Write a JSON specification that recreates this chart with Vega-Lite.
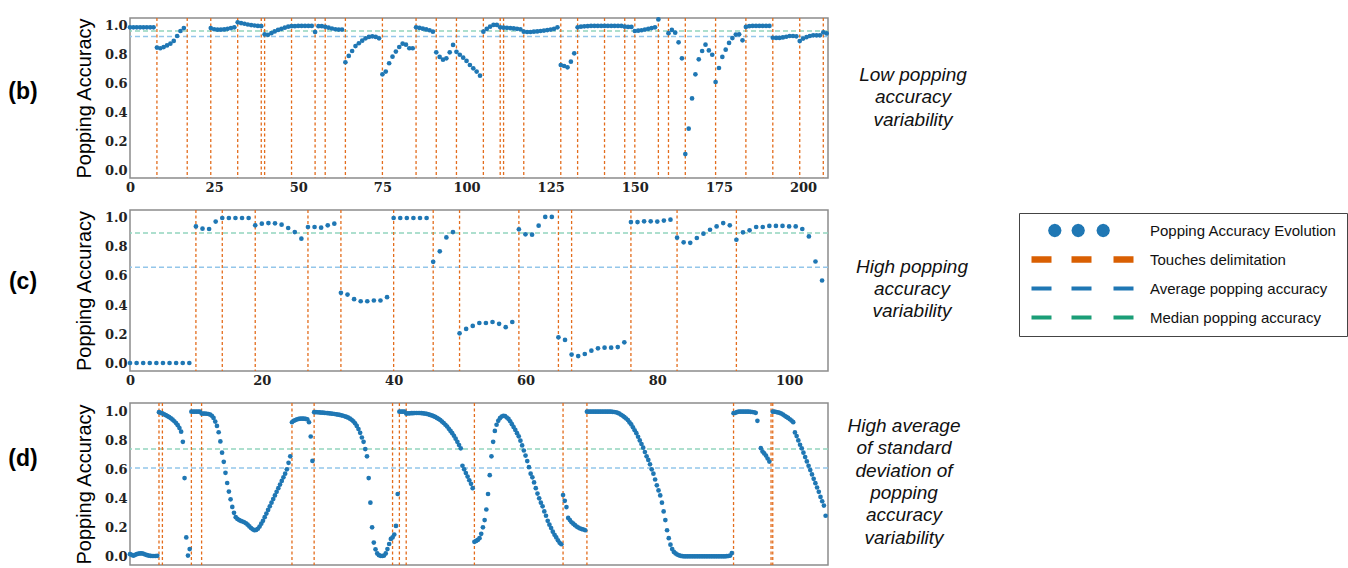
{
"$schema": "https://vega.github.io/schema/vega-lite/v6.json",
"background": "white",
"padding": {"left": 0, "top": 16, "right": 0, "bottom": 0},
"config": {
 "view": {"stroke": "#8c8c8c", "strokeWidth": 1.5},
 "axis": {"grid": false, "domain": false, "ticks": false, "labelFont": "DejaVu Serif", "labelFontWeight": "bold", "labelFontSize": 13, "labelColor": "#222", "labelPadding": 3, "labelFlush": false, "labelOverlap": false, "labelBound": false, "labelSeparation": 0, "titleFont": "Liberation Sans", "titleFontWeight": "normal", "titleFontSize": 20, "titleColor": "#000", "titlePadding": 10},
 "axisY": {"labelOverlap": false, "labelBound": false},
 "axisQuantitative": {"labelOverlap": false}
},
"datasets": {
 "pb": [{"i":0,"v":0.99},{"i":1,"v":0.99},{"i":2,"v":0.99},{"i":3,"v":0.99},{"i":4,"v":0.99},{"i":5,"v":0.99},{"i":6,"v":0.99},{"i":7,"v":0.99},
 {"i":8,"v":0.85},{"i":9,"v":0.845},{"i":10,"v":0.853},{"i":11,"v":0.865},{"i":12,"v":0.877},{"i":13,"v":0.896},{"i":14,"v":0.93},{"i":15,"v":0.965},{"i":16,"v":0.985},
 {"i":24,"v":0.985},{"i":25,"v":0.977},{"i":26,"v":0.974},{"i":27,"v":0.974},{"i":28,"v":0.976},{"i":29,"v":0.98},{"i":30,"v":0.985},{"i":31,"v":0.99},
 {"i":32,"v":1.025},{"i":33,"v":1.02},{"i":34,"v":1.015},{"i":35,"v":1.01},{"i":36,"v":1.006},{"i":37,"v":1.003},{"i":38,"v":1.0},{"i":39,"v":0.998},
 {"i":40,"v":0.942},{"i":41,"v":0.938},{"i":42,"v":0.95},{"i":43,"v":0.962},{"i":44,"v":0.972},{"i":45,"v":0.98},{"i":46,"v":0.988},{"i":47,"v":0.995},{"i":48,"v":0.998},{"i":49,"v":0.998},{"i":50,"v":1.0},{"i":51,"v":1.0},{"i":52,"v":1.0},{"i":53,"v":1.0},{"i":54,"v":1.0},
 {"i":55,"v":0.958},{"i":56,"v":0.998},{"i":57,"v":0.998},{"i":58,"v":0.994},{"i":59,"v":0.988},{"i":60,"v":0.982},{"i":61,"v":0.977},{"i":62,"v":0.975},{"i":63,"v":0.975},
 {"i":64,"v":0.748},{"i":65,"v":0.792},{"i":66,"v":0.826},{"i":67,"v":0.86},{"i":68,"v":0.88},{"i":69,"v":0.898},{"i":70,"v":0.914},{"i":71,"v":0.924},{"i":72,"v":0.928},{"i":73,"v":0.924},{"i":74,"v":0.914},
 {"i":75,"v":0.664},{"i":76,"v":0.683},{"i":77,"v":0.741},{"i":78,"v":0.787},{"i":79,"v":0.822},{"i":80,"v":0.854},{"i":81,"v":0.877},{"i":82,"v":0.87},{"i":83,"v":0.845},{"i":84,"v":0.845},
 {"i":85,"v":0.99},{"i":86,"v":0.986},{"i":87,"v":0.981},{"i":88,"v":0.976},{"i":89,"v":0.97},{"i":90,"v":0.96},
 {"i":91,"v":0.817},{"i":92,"v":0.785},{"i":93,"v":0.766},{"i":94,"v":0.775},{"i":95,"v":0.817},{"i":96,"v":0.868},
 {"i":97,"v":0.82},{"i":98,"v":0.8},{"i":99,"v":0.78},{"i":100,"v":0.757},{"i":101,"v":0.729},{"i":102,"v":0.706},{"i":103,"v":0.683},{"i":104,"v":0.655},
 {"i":105,"v":0.96},{"i":106,"v":0.979},{"i":107,"v":0.995},{"i":108,"v":1.007},{"i":109,"v":1.007},
 {"i":110,"v":0.99},{"i":111,"v":0.988},{"i":112,"v":0.987},{"i":113,"v":0.985},{"i":114,"v":0.983},{"i":115,"v":0.98},{"i":116,"v":0.977},
 {"i":117,"v":0.96},{"i":118,"v":0.958},{"i":119,"v":0.958},{"i":120,"v":0.96},{"i":121,"v":0.962},{"i":122,"v":0.965},{"i":123,"v":0.968},{"i":124,"v":0.971},{"i":125,"v":0.975},{"i":126,"v":0.98},{"i":127,"v":0.99},
 {"i":128,"v":0.729},{"i":129,"v":0.722},{"i":130,"v":0.713},{"i":131,"v":0.752},{"i":132,"v":0.81},
 {"i":133,"v":0.99},{"i":134,"v":0.995},{"i":135,"v":0.997},{"i":136,"v":0.998},{"i":137,"v":1.0},{"i":138,"v":1.0},{"i":139,"v":1.0},{"i":140,"v":1.0},{"i":141,"v":1.0},{"i":142,"v":1.0},{"i":143,"v":1.0},{"i":144,"v":1.0},{"i":145,"v":1.0},{"i":146,"v":1.0},
 {"i":147,"v":0.995},{"i":148,"v":0.993},{"i":149,"v":0.993},
 {"i":150,"v":0.965},{"i":151,"v":0.967},{"i":152,"v":0.97},{"i":153,"v":0.975},{"i":154,"v":0.98},{"i":155,"v":0.985},{"i":156,"v":0.99},
 {"i":157,"v":1.045},
 {"i":160,"v":0.95},{"i":161,"v":0.972},{"i":162,"v":0.953},{"i":163,"v":0.886},{"i":164,"v":0.775},
 {"i":165,"v":0.111},{"i":166,"v":0.287},{"i":167,"v":0.497},{"i":168,"v":0.664},{"i":169,"v":0.768},{"i":170,"v":0.826},{"i":171,"v":0.87},{"i":172,"v":0.83},{"i":173,"v":0.8},
 {"i":174,"v":0.611},{"i":175,"v":0.708},{"i":176,"v":0.785},{"i":177,"v":0.835},{"i":178,"v":0.882},{"i":179,"v":0.916},{"i":180,"v":0.94},{"i":181,"v":0.942},{"i":182,"v":0.9},
 {"i":183,"v":0.993},{"i":184,"v":0.998},{"i":185,"v":1.0},{"i":186,"v":1.0},{"i":187,"v":1.0},{"i":188,"v":1.0},{"i":189,"v":1.0},{"i":190,"v":1.0},
 {"i":191,"v":0.918},{"i":192,"v":0.917},{"i":193,"v":0.917},{"i":194,"v":0.92},{"i":195,"v":0.925},{"i":196,"v":0.93},{"i":197,"v":0.93},{"i":198,"v":0.928},
 {"i":199,"v":0.895},{"i":200,"v":0.912},{"i":201,"v":0.922},{"i":202,"v":0.93},{"i":203,"v":0.935},{"i":204,"v":0.935},{"i":205,"v":0.935},
 {"i":206,"v":0.955},{"i":207,"v":0.948}],
 "tb": [{"t":8},{"t":17},{"t":24},{"t":32},{"t":39},{"t":40},{"t":48},{"t":55},{"t":58},{"t":64},{"t":75},{"t":85},{"t":91},{"t":97},{"t":105},{"t":110},{"t":111},{"t":117},{"t":128},{"t":133},{"t":141},{"t":147},{"t":150},{"t":157},{"t":160},{"t":165},{"t":174},{"t":183},{"t":191},{"t":199},{"t":206}],
 "hb": [{"median":0.965,"average":0.926}],
 "pc": [{"i":0,"v":0},{"i":1,"v":0},{"i":2,"v":0},{"i":3,"v":0},{"i":4,"v":0},{"i":5,"v":0},{"i":6,"v":0},{"i":7,"v":0},{"i":8,"v":0},{"i":9,"v":0},
 {"i":10,"v":0.942},{"i":11,"v":0.926},{"i":12,"v":0.924},{"i":13,"v":0.975},
 {"i":14,"v":1.0},{"i":15,"v":1.0},{"i":16,"v":1.0},{"i":17,"v":1.0},{"i":18,"v":1.0},
 {"i":19,"v":0.949},{"i":20,"v":0.961},{"i":21,"v":0.965},{"i":22,"v":0.963},{"i":23,"v":0.954},{"i":24,"v":0.931},{"i":25,"v":0.903},{"i":26,"v":0.857},
 {"i":27,"v":0.938},{"i":28,"v":0.938},{"i":29,"v":0.933},{"i":30,"v":0.949},{"i":31,"v":0.961},
 {"i":32,"v":0.484},{"i":33,"v":0.472},{"i":34,"v":0.44},{"i":35,"v":0.426},{"i":36,"v":0.426},{"i":37,"v":0.431},{"i":38,"v":0.431},{"i":39,"v":0.454},
 {"i":40,"v":1.0},{"i":41,"v":1.0},{"i":42,"v":1.0},{"i":43,"v":1.0},{"i":44,"v":1.0},{"i":45,"v":1.0},
 {"i":46,"v":0.698},{"i":47,"v":0.77},{"i":48,"v":0.866},{"i":49,"v":0.903},
 {"i":50,"v":0.205},{"i":51,"v":0.235},{"i":52,"v":0.256},{"i":53,"v":0.276},{"i":54,"v":0.276},{"i":55,"v":0.283},{"i":56,"v":0.27},{"i":57,"v":0.247},{"i":58,"v":0.283},
 {"i":59,"v":0.922},{"i":60,"v":0.887},{"i":61,"v":0.885},{"i":62,"v":0.947},{"i":63,"v":1.007},{"i":64,"v":1.007},
 {"i":65,"v":0.177},{"i":66,"v":0.159},
 {"i":67,"v":0.058},{"i":68,"v":0.048},{"i":69,"v":0.062},{"i":70,"v":0.085},{"i":71,"v":0.101},{"i":72,"v":0.106},{"i":73,"v":0.106},{"i":74,"v":0.11},{"i":75,"v":0.143},
 {"i":76,"v":0.972},{"i":77,"v":0.972},{"i":78,"v":0.977},{"i":79,"v":0.977},{"i":80,"v":0.975},{"i":81,"v":0.982},{"i":82,"v":0.988},
 {"i":83,"v":0.864},{"i":84,"v":0.832},{"i":85,"v":0.829},{"i":86,"v":0.862},{"i":87,"v":0.892},{"i":88,"v":0.919},{"i":89,"v":0.942},{"i":90,"v":0.965},{"i":91,"v":0.949},
 {"i":92,"v":0.85},{"i":93,"v":0.901},{"i":94,"v":0.915},{"i":95,"v":0.938},{"i":96,"v":0.938},{"i":97,"v":0.945},{"i":98,"v":0.945},{"i":99,"v":0.945},{"i":100,"v":0.942},{"i":101,"v":0.942},{"i":102,"v":0.924},{"i":103,"v":0.873},{"i":104,"v":0.7},{"i":105,"v":0.569}],
 "tc": [{"t":10},{"t":14},{"t":19},{"t":27},{"t":32},{"t":40},{"t":46},{"t":50},{"t":59},{"t":65},{"t":67},{"t":76},{"t":83},{"t":92}],
 "hc": [{"median":0.896,"average":0.661}],
 "pd": [{"i":0,"v":0.015},{"i":1,"v":0.01},{"i":2,"v":0.004},{"i":3,"v":0.01},{"i":4,"v":0.015},{"i":5,"v":0.018},{"i":6,"v":0.02},{"i":7,"v":0.02},{"i":8,"v":0.017},{"i":9,"v":0.012},{"i":10,"v":0.008},{"i":11,"v":0.005},{"i":12,"v":0.003},{"i":13,"v":0.002},{"i":14,"v":0.002},{"i":15,"v":0.002},{"i":16,"v":0.003},
 {"i":17,"v":0.995},{"i":18,"v":0.99},{"i":19,"v":0.986},{"i":20,"v":0.98},{"i":21,"v":0.974},{"i":22,"v":0.967},{"i":23,"v":0.96},{"i":24,"v":0.952},{"i":25,"v":0.943},{"i":26,"v":0.932},{"i":27,"v":0.92},{"i":28,"v":0.905},{"i":29,"v":0.885},{"i":30,"v":0.86},{"i":31,"v":0.79},{"i":32,"v":0.54},{"i":33,"v":0.13},{"i":34,"v":0.005},{"i":35,"v":0.05},
 {"i":36,"v":0.998},{"i":37,"v":0.998},{"i":38,"v":0.998},{"i":39,"v":0.998},{"i":40,"v":0.998},{"i":41,"v":0.998},
 {"i":42,"v":0.985},{"i":43,"v":0.985},{"i":44,"v":0.985},{"i":45,"v":0.984},{"i":46,"v":0.982},{"i":47,"v":0.978},{"i":48,"v":0.97},{"i":49,"v":0.955},{"i":50,"v":0.93},{"i":51,"v":0.9},{"i":52,"v":0.856},{"i":53,"v":0.793},{"i":54,"v":0.715},{"i":55,"v":0.652},{"i":56,"v":0.576},{"i":57,"v":0.506},{"i":58,"v":0.447},{"i":59,"v":0.393},{"i":60,"v":0.341},{"i":61,"v":0.3},{"i":62,"v":0.27},{"i":63,"v":0.258},{"i":64,"v":0.25},{"i":65,"v":0.245},{"i":66,"v":0.24},{"i":67,"v":0.235},{"i":68,"v":0.228},{"i":69,"v":0.218},{"i":70,"v":0.206},{"i":71,"v":0.195},{"i":72,"v":0.186},{"i":73,"v":0.18},{"i":74,"v":0.182},
 {"i":75,"v":0.19},{"i":76,"v":0.205},{"i":77,"v":0.225},{"i":78,"v":0.245},{"i":79,"v":0.27},{"i":80,"v":0.295},{"i":81,"v":0.32},{"i":82,"v":0.345},{"i":83,"v":0.37},{"i":84,"v":0.395},{"i":85,"v":0.42},{"i":86,"v":0.445},{"i":87,"v":0.47},{"i":88,"v":0.495},{"i":89,"v":0.52},{"i":90,"v":0.545},{"i":91,"v":0.57},{"i":92,"v":0.6},{"i":93,"v":0.645},{"i":94,"v":0.69},
 {"i":95,"v":0.925},{"i":96,"v":0.935},{"i":97,"v":0.94},{"i":98,"v":0.945},{"i":99,"v":0.948},{"i":100,"v":0.95},{"i":101,"v":0.95},{"i":102,"v":0.95},{"i":103,"v":0.948},{"i":104,"v":0.945},{"i":105,"v":0.925},{"i":106,"v":0.827},{"i":107,"v":0.658},
 {"i":108,"v":0.995},{"i":109,"v":0.995},{"i":110,"v":0.994},{"i":111,"v":0.993},{"i":112,"v":0.992},{"i":113,"v":0.991},{"i":114,"v":0.99},{"i":115,"v":0.989},{"i":116,"v":0.988},{"i":117,"v":0.987},{"i":118,"v":0.985},{"i":119,"v":0.984},{"i":120,"v":0.982},{"i":121,"v":0.98},{"i":122,"v":0.978},{"i":123,"v":0.976},{"i":124,"v":0.973},{"i":125,"v":0.97},{"i":126,"v":0.966},{"i":127,"v":0.962},{"i":128,"v":0.957},{"i":129,"v":0.95},{"i":130,"v":0.942},{"i":131,"v":0.932},{"i":132,"v":0.918},{"i":133,"v":0.9},{"i":134,"v":0.878},{"i":135,"v":0.852},{"i":136,"v":0.82},{"i":137,"v":0.79},{"i":138,"v":0.74},{"i":139,"v":0.69},{"i":140,"v":0.54},{"i":141,"v":0.37},{"i":142,"v":0.2},{"i":143,"v":0.095},{"i":144,"v":0.048},{"i":145,"v":0.02},{"i":146,"v":0.008},{"i":147,"v":0.003},{"i":148,"v":0.002},{"i":149,"v":0.005},{"i":150,"v":0.02},{"i":151,"v":0.05},{"i":152,"v":0.085},{"i":153,"v":0.12},
 {"i":154,"v":0.13},{"i":155,"v":0.15},{"i":156,"v":0.21},{"i":157,"v":0.43},
 {"i":158,"v":0.998},{"i":159,"v":0.998},{"i":160,"v":0.998},{"i":161,"v":0.998},
 {"i":162,"v":0.985},{"i":163,"v":0.986},{"i":164,"v":0.987},{"i":165,"v":0.988},{"i":166,"v":0.988},{"i":167,"v":0.989},{"i":168,"v":0.989},{"i":169,"v":0.989},{"i":170,"v":0.989},{"i":171,"v":0.988},{"i":172,"v":0.987},{"i":173,"v":0.985},{"i":174,"v":0.983},{"i":175,"v":0.98},{"i":176,"v":0.976},{"i":177,"v":0.972},{"i":178,"v":0.967},{"i":179,"v":0.962},{"i":180,"v":0.955},{"i":181,"v":0.948},{"i":182,"v":0.94},{"i":183,"v":0.93},{"i":184,"v":0.92},{"i":185,"v":0.908},{"i":186,"v":0.896},{"i":187,"v":0.88},{"i":188,"v":0.865},{"i":189,"v":0.85},{"i":190,"v":0.832},{"i":191,"v":0.812},{"i":192,"v":0.79},{"i":193,"v":0.768},{"i":194,"v":0.745},
 {"i":195,"v":0.625},{"i":196,"v":0.6},{"i":197,"v":0.575},{"i":198,"v":0.55},{"i":199,"v":0.525},{"i":200,"v":0.5},{"i":201,"v":0.47},
 {"i":202,"v":0.1},{"i":203,"v":0.106},{"i":204,"v":0.113},{"i":205,"v":0.125},{"i":206,"v":0.155},{"i":207,"v":0.2},{"i":208,"v":0.25},{"i":209,"v":0.323},{"i":210,"v":0.43},{"i":211,"v":0.56},{"i":212,"v":0.69},{"i":213,"v":0.79},{"i":214,"v":0.865},{"i":215,"v":0.908},{"i":216,"v":0.935},{"i":217,"v":0.953},{"i":218,"v":0.965},{"i":219,"v":0.97},{"i":220,"v":0.968},{"i":221,"v":0.958},{"i":222,"v":0.948},{"i":223,"v":0.932},{"i":224,"v":0.912},{"i":225,"v":0.892},{"i":226,"v":0.872},{"i":227,"v":0.85},{"i":228,"v":0.828},{"i":229,"v":0.798},{"i":230,"v":0.765},{"i":231,"v":0.73},{"i":232,"v":0.695},{"i":233,"v":0.657},{"i":234,"v":0.615},{"i":235,"v":0.57},{"i":236,"v":0.545},{"i":237,"v":0.51},{"i":238,"v":0.47},{"i":239,"v":0.433},{"i":240,"v":0.4},{"i":241,"v":0.37},{"i":242,"v":0.345},{"i":243,"v":0.31},{"i":244,"v":0.28},{"i":245,"v":0.245},{"i":246,"v":0.218},{"i":247,"v":0.195},{"i":248,"v":0.17},{"i":249,"v":0.148},{"i":250,"v":0.13},{"i":251,"v":0.11},{"i":252,"v":0.093},{"i":253,"v":0.083},
 {"i":254,"v":0.423},{"i":255,"v":0.383},{"i":256,"v":0.34},{"i":257,"v":0.265},{"i":258,"v":0.25},{"i":259,"v":0.235},{"i":260,"v":0.225},{"i":261,"v":0.215},{"i":262,"v":0.205},{"i":263,"v":0.198},{"i":264,"v":0.192},{"i":265,"v":0.188},{"i":266,"v":0.185},{"i":267,"v":0.18},
 {"i":268,"v":0.998},{"i":269,"v":0.998},{"i":270,"v":0.998},{"i":271,"v":0.998},{"i":272,"v":0.998},{"i":273,"v":0.998},{"i":274,"v":0.998},{"i":275,"v":0.998},{"i":276,"v":0.998},{"i":277,"v":0.998},{"i":278,"v":0.998},{"i":279,"v":0.998},{"i":280,"v":0.998},{"i":281,"v":0.998},{"i":282,"v":0.998},{"i":283,"v":0.997},{"i":284,"v":0.996},{"i":285,"v":0.994},
 {"i":286,"v":0.99},{"i":287,"v":0.985},{"i":288,"v":0.977},{"i":289,"v":0.97},{"i":290,"v":0.96},{"i":291,"v":0.951},{"i":292,"v":0.94},{"i":293,"v":0.924},{"i":294,"v":0.91},{"i":295,"v":0.89},{"i":296,"v":0.87},{"i":297,"v":0.85},{"i":298,"v":0.825},{"i":299,"v":0.8},{"i":300,"v":0.775},{"i":301,"v":0.75},{"i":302,"v":0.72},{"i":303,"v":0.69},{"i":304,"v":0.665},{"i":305,"v":0.635},{"i":306,"v":0.6},{"i":307,"v":0.57},{"i":308,"v":0.53},{"i":309,"v":0.49},{"i":310,"v":0.455},{"i":311,"v":0.42},{"i":312,"v":0.37},{"i":313,"v":0.31},{"i":314,"v":0.25},{"i":315,"v":0.18},{"i":316,"v":0.125},{"i":317,"v":0.08},{"i":318,"v":0.05},{"i":319,"v":0.03},{"i":320,"v":0.02},{"i":321,"v":0.012},{"i":322,"v":0.007},{"i":323,"v":0.003},
 {"i":324,"v":0.001},{"i":325,"v":0.0},{"i":326,"v":0.0},{"i":327,"v":0.0},{"i":328,"v":0.0},{"i":329,"v":0.0},{"i":330,"v":0.0},{"i":331,"v":0.0},{"i":332,"v":0.0},{"i":333,"v":0.0},{"i":334,"v":0.0},{"i":335,"v":0.0},{"i":336,"v":0.0},{"i":337,"v":0.0},{"i":338,"v":0.0},{"i":339,"v":0.0},{"i":340,"v":0.0},{"i":341,"v":0.0},{"i":342,"v":0.0},{"i":343,"v":0.0},{"i":344,"v":0.0},{"i":345,"v":0.0},{"i":346,"v":0.0},{"i":347,"v":0.0},{"i":348,"v":0.0},{"i":349,"v":0.0},{"i":350,"v":0.001},{"i":351,"v":0.002},{"i":352,"v":0.005},{"i":353,"v":0.023},
 {"i":354,"v":0.988},{"i":355,"v":0.99},{"i":356,"v":0.995},{"i":357,"v":0.998},{"i":358,"v":0.998},{"i":359,"v":0.998},{"i":360,"v":0.998},{"i":361,"v":0.998},{"i":362,"v":0.998},{"i":363,"v":0.998},{"i":364,"v":0.997},{"i":365,"v":0.996},{"i":366,"v":0.994},{"i":367,"v":0.99},{"i":368,"v":0.935},
 {"i":370,"v":0.746},{"i":371,"v":0.723},{"i":372,"v":0.71},{"i":373,"v":0.695},{"i":374,"v":0.675},{"i":375,"v":0.654},
 {"i":377,"v":0.998},{"i":378,"v":0.998},{"i":379,"v":0.996},{"i":380,"v":0.993},{"i":381,"v":0.99},{"i":382,"v":0.985},{"i":383,"v":0.978},{"i":384,"v":0.97},{"i":385,"v":0.962},{"i":386,"v":0.955},{"i":387,"v":0.946},{"i":388,"v":0.937},{"i":389,"v":0.926},
 {"i":390,"v":0.855},{"i":391,"v":0.83},{"i":392,"v":0.8},{"i":393,"v":0.77},{"i":394,"v":0.745},{"i":395,"v":0.715},{"i":396,"v":0.685},{"i":397,"v":0.655},{"i":398,"v":0.625},{"i":399,"v":0.595},{"i":400,"v":0.565},{"i":401,"v":0.535},{"i":402,"v":0.505},{"i":403,"v":0.475},{"i":404,"v":0.445},{"i":405,"v":0.41},{"i":406,"v":0.38},{"i":407,"v":0.35},{"i":408,"v":0.28}],
 "td": [{"t":17},{"t":19},{"t":36},{"t":42},{"t":95},{"t":108},{"t":154},{"t":158},{"t":162},{"t":202},{"t":254},{"t":268},{"t":354},{"t":376},{"t":377}],
 "hd": [{"median":0.741,"average":0.61}]
},
"columns": 3,
"bounds": "flush",
"spacing": {"row": 32, "column": 0},
"resolve": {"scale": {"x": "independent", "y": "independent", "color": "independent", "shape": "independent"}},
"concat": [
 {"width": 130, "height": 160, "view": {"stroke": null}, "data": {"values": [{"t": "(b)"}]},
  "mark": {"type": "text", "font": "Liberation Sans", "fontWeight": "bold", "fontSize": 23, "color": "#000", "baseline": "middle", "align": "center", "dx": -42, "dy": -6},
  "encoding": {"text": {"field": "t"}}},
 {"width": 698, "height": 160,
  "layer": [
   {"data": {"name": "hb"}, "mark": {"type": "rule", "color": "#93d5bf", "strokeDash": [5, 3], "strokeWidth": 1.5},
    "encoding": {"y": {"field": "median", "type": "quantitative", "title": "Popping Accuracy", "scale": {"domain": [-0.055, 1.055], "nice": false, "zero": false}, "axis": {"values": [0, 0.2, 0.4, 0.6, 0.8, 1.0], "format": ".1f", "labelOverlap": false, "labelBound": false}}}},
   {"data": {"name": "hb"}, "mark": {"type": "rule", "color": "#93c6ea", "strokeDash": [5, 3], "strokeWidth": 1.5},
    "encoding": {"y": {"field": "average", "type": "quantitative", "title": "Popping Accuracy", "scale": {"domain": [-0.055, 1.055], "nice": false, "zero": false}, "axis": {"values": [0, 0.2, 0.4, 0.6, 0.8, 1.0], "format": ".1f", "labelOverlap": false, "labelBound": false}}}},
   {"data": {"name": "tb"}, "mark": {"type": "rule", "color": "#e36c1c", "strokeDash": [3, 2.5], "strokeWidth": 1.3},
    "encoding": {"x": {"field": "t", "type": "quantitative", "title": null, "scale": {"domain": [0, 207.4], "nice": false, "zero": false}, "axis": {"values": [0, 25, 50, 75, 100, 125, 150, 175, 200], "labelOverlap": false}}}},
   {"data": {"name": "pb"}, "mark": {"type": "point", "filled": true, "size": 22, "color": "#1f77b4", "opacity": 1},
    "encoding": {"x": {"field": "i", "type": "quantitative", "title": null, "scale": {"domain": [0, 207.4], "nice": false, "zero": false}, "axis": {"values": [0, 25, 50, 75, 100, 125, 150, 175, 200], "labelOverlap": false}},
                 "y": {"field": "v", "type": "quantitative", "title": "Popping Accuracy", "scale": {"domain": [-0.055, 1.055], "nice": false, "zero": false}, "axis": {"values": [0, 0.2, 0.4, 0.6, 0.8, 1.0], "format": ".1f", "labelOverlap": false, "labelBound": false}}}}
  ]},
 {"width": 164, "height": 160, "view": {"stroke": null}, "data": {"values": [{"t": "Low popping|accuracy|variability"}]},
  "mark": {"type": "text", "lineBreak": "|", "font": "Liberation Sans", "fontStyle": "italic", "fontSize": 19, "lineHeight": 22.3, "align": "center", "baseline": "middle", "color": "#111", "dx": 3, "dy": -23},
  "encoding": {"text": {"field": "t"}}},

 {"width": 130, "height": 160, "view": {"stroke": null}, "data": {"values": [{"t": "(c)"}]},
  "mark": {"type": "text", "font": "Liberation Sans", "fontWeight": "bold", "fontSize": 23, "color": "#000", "baseline": "middle", "align": "center", "dx": -42, "dy": -8},
  "encoding": {"text": {"field": "t"}}},
 {"width": 698, "height": 161,
  "layer": [
   {"data": {"name": "hc"}, "mark": {"type": "rule", "color": "#93d5bf", "strokeDash": [5, 3], "strokeWidth": 1.5},
    "encoding": {"y": {"field": "median", "type": "quantitative", "title": "Popping Accuracy", "scale": {"domain": [-0.055, 1.055], "nice": false, "zero": false}, "axis": {"values": [0, 0.2, 0.4, 0.6, 0.8, 1.0], "format": ".1f", "labelOverlap": false, "labelBound": false}}}},
   {"data": {"name": "hc"}, "mark": {"type": "rule", "color": "#93c6ea", "strokeDash": [5, 3], "strokeWidth": 1.5},
    "encoding": {"y": {"field": "average", "type": "quantitative", "title": "Popping Accuracy", "scale": {"domain": [-0.055, 1.055], "nice": false, "zero": false}, "axis": {"values": [0, 0.2, 0.4, 0.6, 0.8, 1.0], "format": ".1f", "labelOverlap": false, "labelBound": false}}}},
   {"data": {"name": "tc"}, "mark": {"type": "rule", "color": "#e36c1c", "strokeDash": [3, 2.5], "strokeWidth": 1.3},
    "encoding": {"x": {"field": "t", "type": "quantitative", "title": null, "scale": {"domain": [0, 105.9], "nice": false, "zero": false}, "axis": {"values": [0, 20, 40, 60, 80, 100], "labelOverlap": false}}}},
   {"data": {"name": "pc"}, "mark": {"type": "point", "filled": true, "size": 22, "color": "#1f77b4", "opacity": 1},
    "encoding": {"x": {"field": "i", "type": "quantitative", "title": null, "scale": {"domain": [0, 105.9], "nice": false, "zero": false}, "axis": {"values": [0, 20, 40, 60, 80, 100], "labelOverlap": false}},
                 "y": {"field": "v", "type": "quantitative", "title": "Popping Accuracy", "scale": {"domain": [-0.055, 1.055], "nice": false, "zero": false}, "axis": {"values": [0, 0.2, 0.4, 0.6, 0.8, 1.0], "format": ".1f", "labelOverlap": false, "labelBound": false}}}},
   {"data": {"name": "hc"}, "mark": {"type": "point", "filled": true, "opacity": 0},
    "encoding": {
      "color": {"datum": "Popping Accuracy Evolution", "type": "nominal",
        "scale": {"domain": ["Popping Accuracy Evolution", "Touches delimitation", "Average popping accuracy", "Median popping accuracy"], "range": ["#1f77b4", "#d95f02", "#1f77b4", "#1b9e77"]},
        "legend": {"orient": "none", "legendX": 889, "legendY": 3, "title": null, "strokeColor": "#444", "fillColor": "white", "padding": 10,
          "labelFont": "Liberation Sans", "labelFontSize": 15, "labelColor": "#111", "labelLimit": 400, "labelOffset": 106,
          "symbolSize": 100, "symbolStrokeWidth": 0, "symbolOpacity": 1, "rowPadding": 13}},
      "shape": {"datum": "Popping Accuracy Evolution", "type": "nominal",
        "scale": {"domain": ["Popping Accuracy Evolution", "Touches delimitation", "Average popping accuracy", "Median popping accuracy"],
                  "range": ["M5,0L4.82,0.67L4.33,1.16L3.66,1.34L2.99,1.16L2.5,0.67L2.32,0L2.5,-0.67L2.99,-1.16L3.66,-1.34L4.33,-1.16L4.82,-0.67ZM9.68,0L9.5,0.67L9.01,1.16L8.34,1.34L7.67,1.16L7.18,0.67L7,0L7.18,-0.67L7.67,-1.16L8.34,-1.34L9.01,-1.16L9.5,-0.67ZM14.68,0L14.5,0.67L14.01,1.16L13.34,1.34L12.67,1.16L12.18,0.67L12,0L12.18,-0.67L12.67,-1.16L13.34,-1.34L14.01,-1.16L14.5,-0.67Z",
                            "M-1,-0.67L3,-0.67L3,0.67L-1,0.67ZM7,-0.67L11,-0.67L11,0.67L7,0.67ZM15.4,-0.67L19.4,-0.67L19.4,0.67L15.4,0.67Z",
                            "M-1,-0.4L3,-0.4L3,0.4L-1,0.4ZM7,-0.4L11,-0.4L11,0.4L7,0.4ZM15.4,-0.4L19.4,-0.4L19.4,0.4L15.4,0.4Z",
                            "M-1,-0.4L3,-0.4L3,0.4L-1,0.4ZM7,-0.4L11,-0.4L11,0.4L7,0.4ZM15.4,-0.4L19.4,-0.4L19.4,0.4L15.4,0.4Z"]},
        "legend": {"orient": "none", "legendX": 889, "legendY": 3, "title": null, "strokeColor": "#444", "fillColor": "white", "padding": 10,
          "labelFont": "Liberation Sans", "labelFontSize": 15, "labelColor": "#111", "labelLimit": 400, "labelOffset": 106,
          "symbolSize": 100, "symbolStrokeWidth": 0, "symbolOpacity": 1, "rowPadding": 13}}
    }}
  ]},
 {"width": 164, "height": 161, "view": {"stroke": null}, "data": {"values": [{"t": "High popping|accuracy|variability"}]},
  "mark": {"type": "text", "lineBreak": "|", "font": "Liberation Sans", "fontStyle": "italic", "fontSize": 19, "lineHeight": 22.3, "align": "center", "baseline": "middle", "color": "#111", "dx": 2, "dy": -24},
  "encoding": {"text": {"field": "t"}}},

 {"width": 130, "height": 162, "view": {"stroke": null}, "data": {"values": [{"t": "(d)"}]},
  "mark": {"type": "text", "font": "Liberation Sans", "fontWeight": "bold", "fontSize": 23, "color": "#000", "baseline": "middle", "align": "center", "dx": -42, "dy": -25},
  "encoding": {"text": {"field": "t"}}},
 {"width": 698, "height": 162,
  "layer": [
   {"data": {"name": "hd"}, "mark": {"type": "rule", "color": "#93d5bf", "strokeDash": [5, 3], "strokeWidth": 1.5},
    "encoding": {"y": {"field": "median", "type": "quantitative", "title": "Popping Accuracy", "scale": {"domain": [-0.06, 1.058], "nice": false, "zero": false}, "axis": {"values": [0, 0.2, 0.4, 0.6, 0.8, 1.0], "format": ".1f", "labelOverlap": false, "labelBound": false}}}},
   {"data": {"name": "hd"}, "mark": {"type": "rule", "color": "#93c6ea", "strokeDash": [5, 3], "strokeWidth": 1.5},
    "encoding": {"y": {"field": "average", "type": "quantitative", "title": "Popping Accuracy", "scale": {"domain": [-0.06, 1.058], "nice": false, "zero": false}, "axis": {"values": [0, 0.2, 0.4, 0.6, 0.8, 1.0], "format": ".1f", "labelOverlap": false, "labelBound": false}}}},
   {"data": {"name": "td"}, "mark": {"type": "rule", "color": "#e36c1c", "strokeDash": [3, 2.5], "strokeWidth": 1.3},
    "encoding": {"x": {"field": "t", "type": "quantitative", "title": null, "scale": {"domain": [0, 409.4], "nice": false, "zero": false}, "axis": {"values": [0, 50, 100, 150, 200, 250, 300, 350, 400], "labelOverlap": false}}}},
   {"data": {"name": "pd"}, "mark": {"type": "point", "filled": true, "size": 22, "color": "#1f77b4", "opacity": 1},
    "encoding": {"x": {"field": "i", "type": "quantitative", "title": null, "scale": {"domain": [0, 409.4], "nice": false, "zero": false}, "axis": {"values": [0, 50, 100, 150, 200, 250, 300, 350, 400], "labelOverlap": false}},
                 "y": {"field": "v", "type": "quantitative", "title": "Popping Accuracy", "scale": {"domain": [-0.06, 1.058], "nice": false, "zero": false}, "axis": {"values": [0, 0.2, 0.4, 0.6, 0.8, 1.0], "format": ".1f", "labelOverlap": false, "labelBound": false}}}}
  ]},
 {"width": 164, "height": 162, "view": {"stroke": null}, "data": {"values": [{"t": "High average|of standard|deviation of|popping|accuracy|variability"}]},
  "mark": {"type": "text", "lineBreak": "|", "font": "Liberation Sans", "fontStyle": "italic", "fontSize": 19, "lineHeight": 22.3, "align": "center", "baseline": "middle", "color": "#111", "dx": -6, "dy": -58},
  "encoding": {"text": {"field": "t"}}}
]
}
